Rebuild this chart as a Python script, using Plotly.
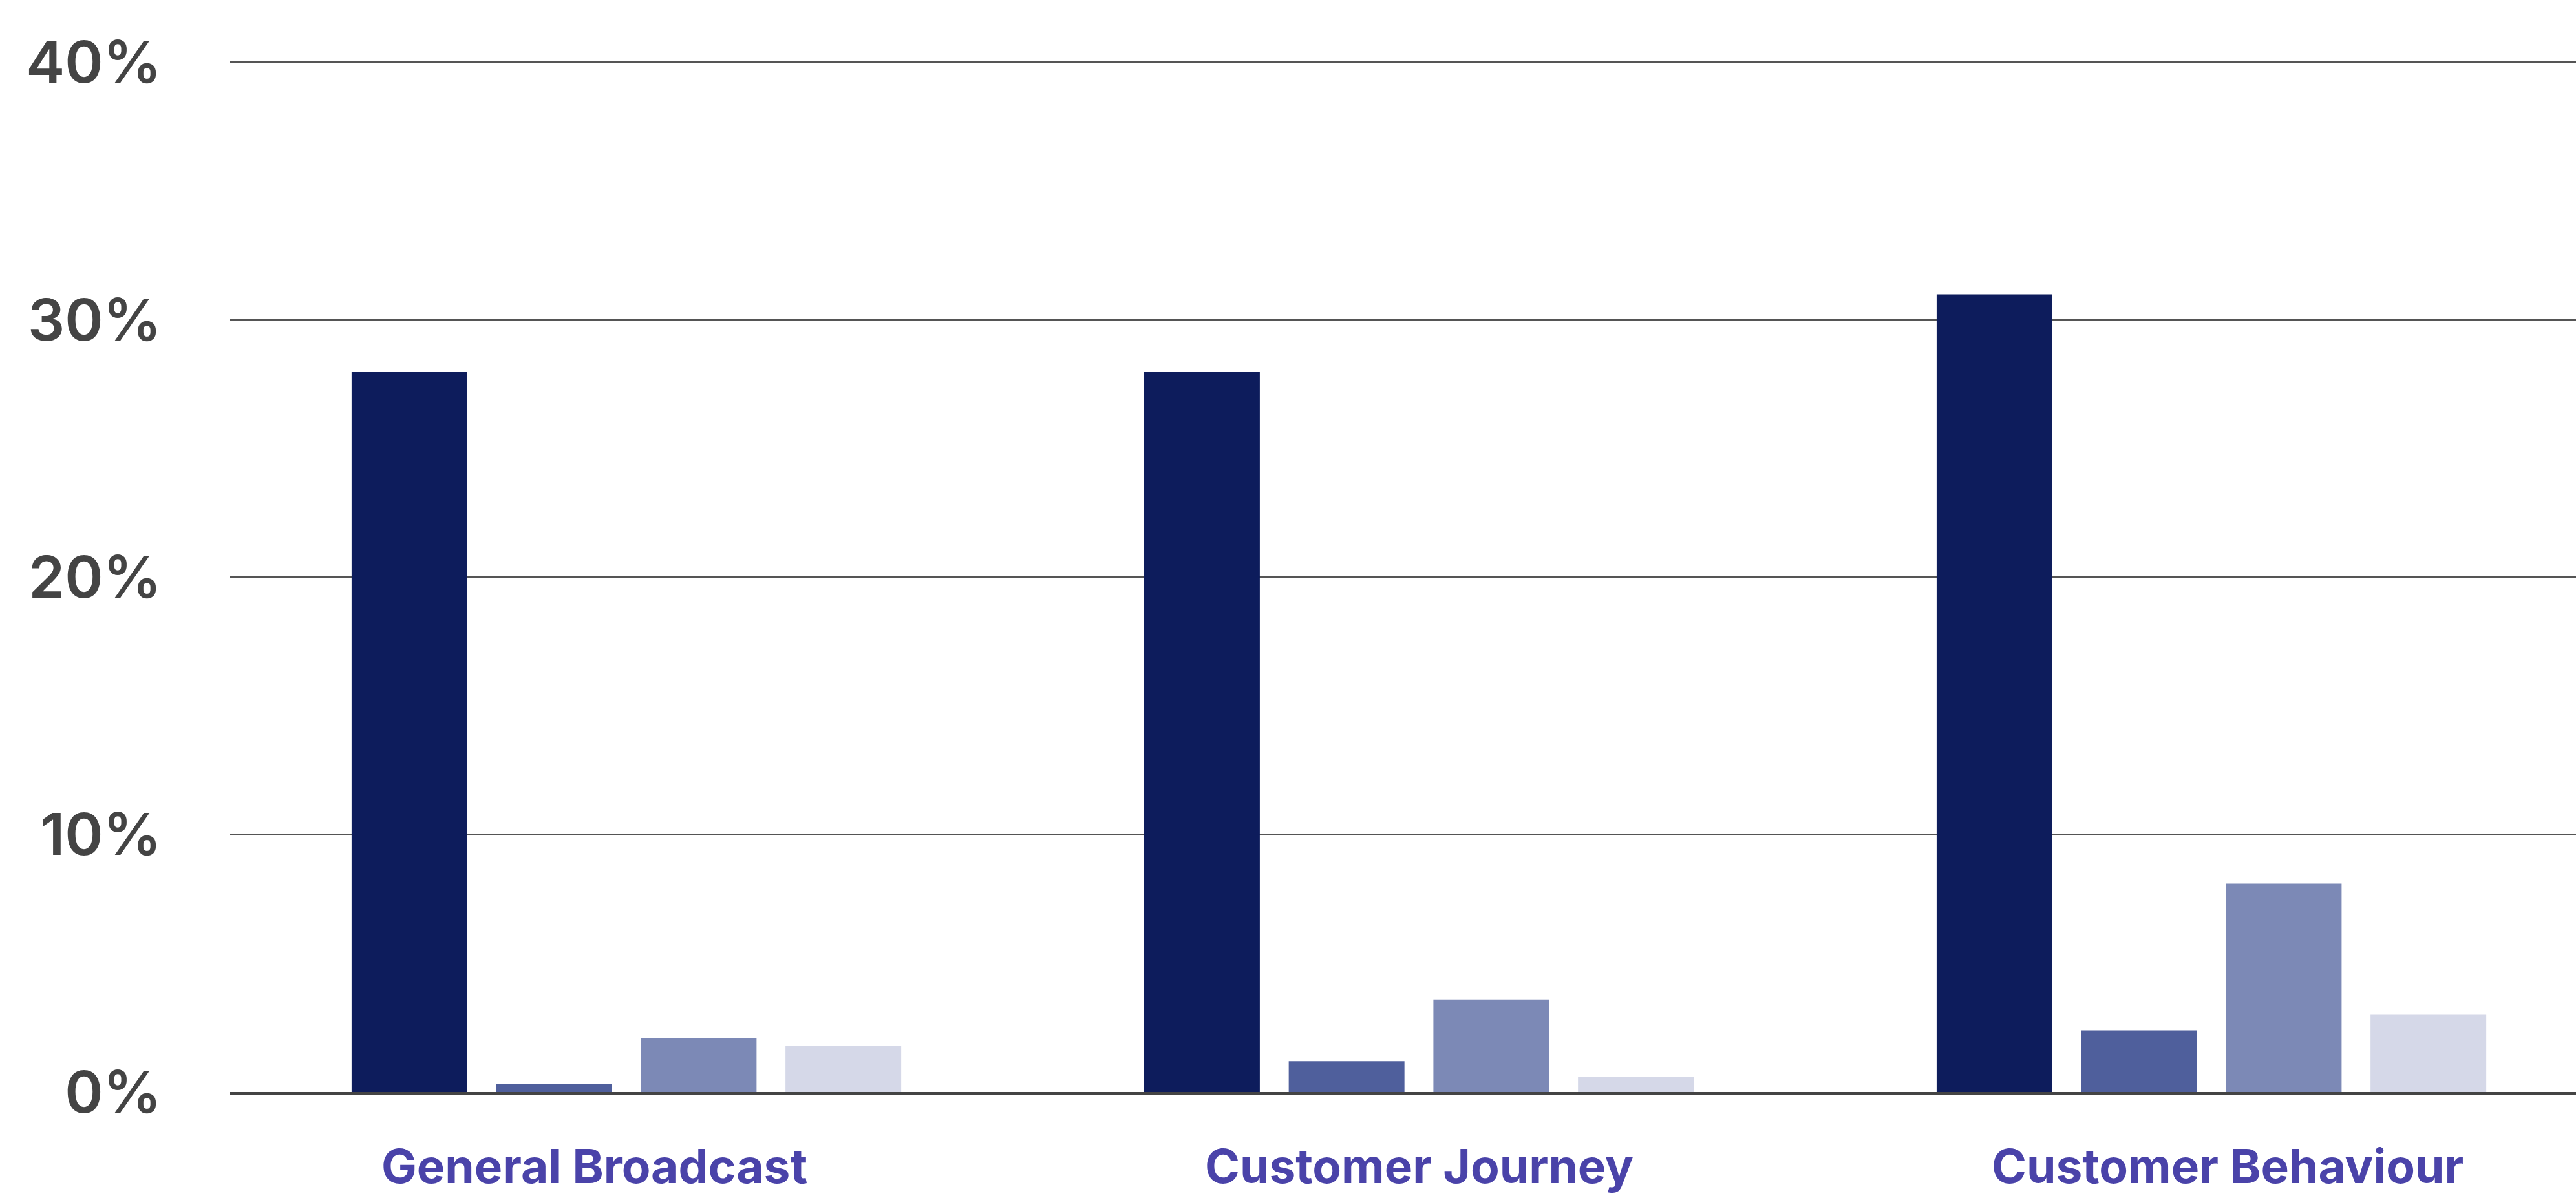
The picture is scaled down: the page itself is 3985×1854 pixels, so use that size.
import plotly.graph_objects as go

# Categories and series values (percent)
categories = ["General Broadcast", "Customer Journey", "Customer Behaviour"]
series_1 = [28.0, 28.0, 31.0]
series_2 = [0.3, 1.2, 2.4]
series_3 = [2.1, 3.6, 8.1]
series_4 = [1.8, 0.6, 3.0]
tick_values = [0, 10, 20, 30, 40]
tick_labels = ["0%", "10%", "20%", "30%", "40%"]

series = [series_1, series_2, series_3, series_4]
colors = ["#0D1C5C", "#4F5F9C", "#7C89B6", "#D5D8E8"]
label_nudge = [-50, 0, 25]  # horizontal offsets (px) of the category captions

fig = go.Figure()
for vals, col in zip(series, colors):
    fig.add_trace(go.Bar(
        x=categories,
        y=vals,
        marker=dict(color=col, line=dict(width=0)),
        showlegend=False,
        hoverinfo="skip",
    ))

# Category captions below the axis
for cat, dx in zip(categories, label_nudge):
    fig.add_annotation(
        x=cat, y=0, xref="x", yref="y",
        text=cat, showarrow=False,
        xanchor="center", yanchor="middle",
        xshift=dx, yshift=-114,
        font=dict(size=73, color="#4A43A9", weight=700,
                  family="Inter, Roboto, sans-serif"),
    )

fig.update_layout(
    width=3985,
    height=1854,
    barmode="group",
    bargap=0.27,
    bargroupgap=0.2,
    plot_bgcolor="white",
    paper_bgcolor="white",
    margin=dict(l=356, r=0, t=91, b=164, autoexpand=False),
    font=dict(family="Inter, Roboto, sans-serif"),
)

fig.update_xaxes(
    range=[-0.5, 2.46],
    automargin=False,
    showgrid=False,
    showline=True,
    linecolor="#444444",
    linewidth=5,
    ticks="",
    showticklabels=False,
)

fig.update_yaxes(
    range=[0, 40.15],
    automargin=False,
    tickvals=tick_values,
    ticktext=tick_labels,
    showgrid=True,
    gridcolor="#555555",
    gridwidth=2.5,
    zeroline=False,
    showline=False,
    ticks="",
    ticklabelstandoff=105,
    tickfont=dict(size=90, color="#444444", weight=600),
)

fig.write_html("out.html")
